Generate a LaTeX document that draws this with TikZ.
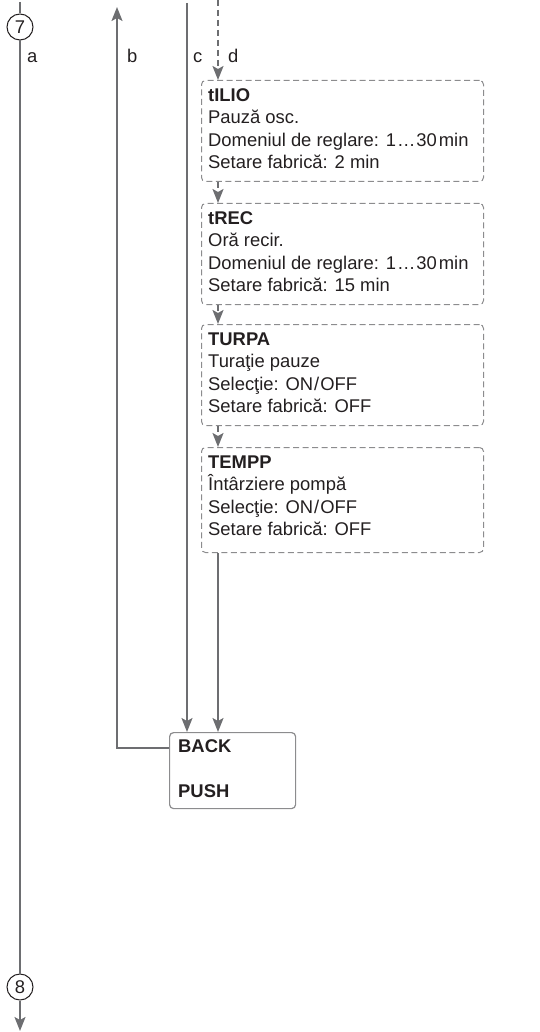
\documentclass[tikz,border=0pt]{standalone}
\usepackage{fontspec}
\setmainfont{Liberation Sans}
\usetikzlibrary{arrows.meta}
\definecolor{ln}{HTML}{6D6E71}
\definecolor{bx}{HTML}{8C8C8E}
\definecolor{tx}{HTML}{231F20}
\begin{document}
\begin{tikzpicture}[x=1pt,y=-1pt,
  lbl/.style={font=\fontsize{18.4}{22.3}\selectfont, text=tx, inner sep=0, anchor=base west},
  bl/.style={lbl, font=\fontsize{18.4}{22.3}\selectfont\bfseries},
  flow/.style={draw=ln, line width=1.8pt},
  tip/.style={-{Stealth[length=14pt,width=11pt,inset=3pt]}},
  dflow/.style={flow, dash pattern=on 6pt off 4pt},
  dbox/.style={draw=bx, line width=1pt, dash pattern=on 6pt off 3.5pt, rounded corners=4pt, anchor=north west, inner sep=0, minimum width=282pt},
  sbox/.style={draw=bx, line width=1.2pt, rounded corners=4pt, anchor=north west, inner sep=0, minimum width=126pt, minimum height=76pt},
  conn/.style={circle, draw=tx, line width=1pt, minimum size=26pt, inner sep=0, font=\fontsize{18.4}{22}\selectfont, text=tx}
]
\useasboundingbox (0,0) rectangle (539,1032);

% connectors circles
\node[conn] (c7) at (20,27) {7};
\node[conn] (c8) at (20,987) {8};
\coordinate (a0) at (20,2);
\coordinate (aend) at (20,1031);
\coordinate (b0) at (117,7);
\coordinate (c0) at (187,3);
\coordinate (d0) at (218,0);

% labels
\node[lbl] (la) at (27,63) {a};
\node[lbl] (lb) at (127,63) {b};
\node[lbl] (lc) at (193,63) {c};
\node[lbl] (ld) at (228,63) {d};

% boxes
\node[dbox, minimum height=101pt] (tilio) at (201,80) {};
\node[dbox, minimum height=101pt] (trec) at (201,203) {};
\node[dbox, minimum height=101pt] (turpa) at (201,324) {};
\node[dbox, minimum height=105pt] (tempp) at (201,447) {};
\node[sbox] (back) at (169,732) {};

% box texts
\node[bl] (t1a) at (208,101.5) {tILIO};
\node[lbl] (t1b) at (208,123.8) {Pauză osc.};
\node[lbl] (t1c) at (208,146.1) {Domeniul de reglare: 1\kern1pt…\kern1pt30\kern2pt min};
\node[lbl] (t1d) at (208,168.4) {Setare fabrică: 2 min};

\node[bl] (t2a) at (208,224.5) {tREC};
\node[lbl] (t2b) at (208,246.8) {Oră recir.};
\node[lbl] (t2c) at (208,269.1) {Domeniul de reglare: 1\kern1pt…\kern1pt30\kern2pt min};
\node[lbl] (t2d) at (208,291.4) {Setare fabrică: 15 min};

\node[bl] (t3a) at (208,345.5) {TURPA};
\node[lbl] (t3b) at (208,367.8) {Turaţie pauze};
\node[lbl] (t3c) at (208,390.1) {Selecţie: ON\kern1pt/\kern1pt OFF};
\node[lbl] (t3d) at (208,412.4) {Setare fabrică: OFF};

\node[bl] (t4a) at (208,468.5) {TEMPP};
\node[lbl] (t4b) at (208,490.8) {Întârziere pompă};
\node[lbl] (t4c) at (208,513.1) {Selecţie: ON\kern1pt/\kern1pt OFF};
\node[lbl] (t4d) at (208,535.4) {Setare fabrică: OFF};

\node[bl] (bk) at (178,752) {BACK};
\node[bl] (ps) at (178,797.5) {PUSH};

% flows
\draw[flow] (a0) -- (c7.north);
\draw[flow] (c7.south) -- (c8.north);
\draw[flow, tip] (c8.south) -- (aend);

\draw[flow, tip] (back.north west |- 0,748) -| (b0);
\draw[flow, tip] (c0) -- (c0 |- back.north);

\draw[dflow, tip] (d0) -- (d0 |- tilio.north);
\draw[dflow, tip] (d0 |- tilio.south) -- (d0 |- trec.north);
\draw[dflow, tip] (d0 |- trec.south) -- (d0 |- turpa.north);
\draw[dflow, tip] (d0 |- turpa.south) -- (d0 |- tempp.north);
\draw[flow, tip] (d0 |- tempp.south) -- (d0 |- back.north);
\end{tikzpicture}
\end{document}
